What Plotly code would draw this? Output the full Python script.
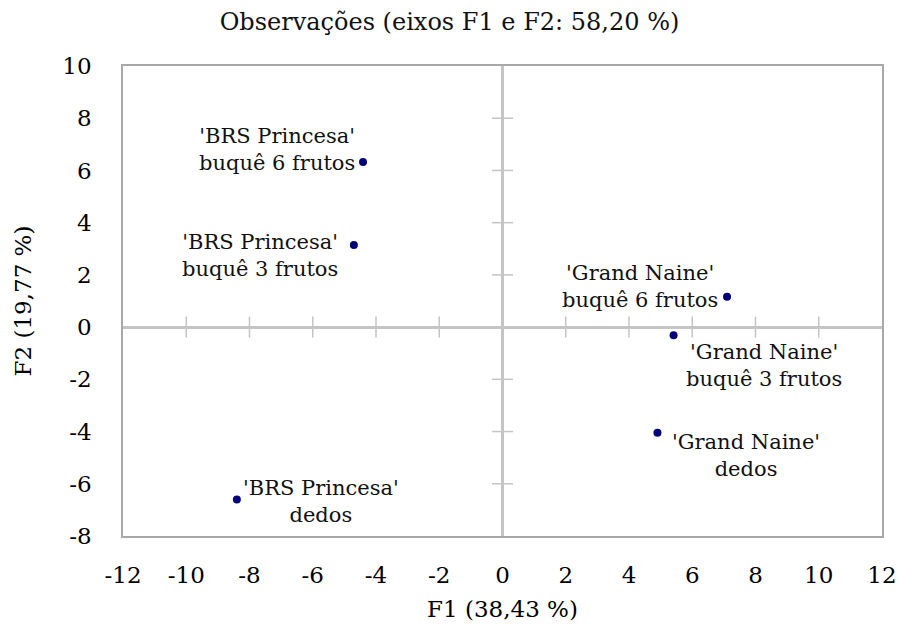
import plotly.graph_objects as go

# ---- data ----
labels = [
    "'BRS Princesa'<br>buquê 6 frutos",
    "'BRS Princesa'<br>buquê 3 frutos",
    "'Grand Naine'<br>buquê 6 frutos",
    "'Grand Naine'<br>buquê 3 frutos",
    "'Grand Naine'<br>dedos",
    "'BRS Princesa'<br>dedos",
]
f1 = [-4.41, -4.70, 7.10, 5.41, 4.90, -8.40]
f2 = [6.32, 3.14, 1.16, -0.31, -4.05, -6.60]
x_ticks = [-12, -10, -8, -6, -4, -2, 0, 2, 4, 6, 8, 10, 12]
y_ticks = [-8, -6, -4, -2, 0, 2, 4, 6, 8, 10]

title_text = "Observações (eixos F1 e F2: 58,20 %)"
x_title = "F1 (38,43 %)"
y_title = "F2 (19,77 %)"

# ---- label placement styles (xanchor, yanchor, xshift, yshift) ----
label_pos = [
    ("right", "middle", -6, 13),
    ("right", "middle", -14, -10),
    ("right", "middle", -7, 10),
    ("left", "middle", 10, -30),
    ("left", "middle", 13, -23),
    ("left", "middle", 4, -2),
]

FONT = "DejaVu Serif"
AX_COL = "#c4c4c4"
BOX_COL = "#a8a8a8"

fig = go.Figure()

# cross tick marks on the zero axes
xt = [t for t in x_ticks if t != 0 and abs(t) != 12]
yt = [t for t in y_ticks if t != 0 and t not in (y_ticks[0], y_ticks[-1])]
fig.add_trace(go.Scatter(
    x=xt, y=[0] * len(xt), mode="markers", hoverinfo="skip", showlegend=False,
    marker=dict(symbol="line-ns", size=15, line=dict(color=AX_COL, width=1.5)),
))
fig.add_trace(go.Scatter(
    x=[0] * len(yt), y=yt, mode="markers", hoverinfo="skip", showlegend=False,
    marker=dict(symbol="line-ew", size=15, line=dict(color=AX_COL, width=1.5)),
))

fig.add_trace(go.Scatter(
    x=f1, y=f2, mode="markers", showlegend=False,
    marker=dict(color="#00007a", size=8),
    text=[l.replace("<br>", " ") for l in labels], hoverinfo="text+x+y",
))

for xv, yv, lab, (xa, ya, xs, ys) in zip(f1, f2, labels, label_pos):
    fig.add_annotation(
        x=xv, y=yv, text=lab, showarrow=False, xanchor=xa, yanchor=ya,
        xshift=xs, yshift=ys, align="center",
        font=dict(family=FONT, size=21, color="#111111"),
    )

fig.update_layout(
    width=899, height=630, autosize=False,
    margin=dict(l=123, r=17, t=66, b=94, autoexpand=False),
    paper_bgcolor="white", plot_bgcolor="white",
    font=dict(family=FONT, size=23, color="#000000"),
    title=dict(text=title_text, x=0.5, xanchor="center", y=0.965, yanchor="middle",
               yref="container", font=dict(family=FONT, size=24, color="#111111")),
    xaxis=dict(
        range=[-12, 12], tickvals=x_ticks, ticktext=[str(t) for t in x_ticks],
        showgrid=False, zeroline=True, zerolinecolor=AX_COL, zerolinewidth=2.5,
        showline=True, mirror=True, linecolor=BOX_COL, linewidth=1.5,
        ticks="", ticklabelstandoff=18, automargin=False,
        title=dict(text=x_title, standoff=14, font=dict(family=FONT, size=23)),
        fixedrange=True,
    ),
    yaxis=dict(
        range=[-8, 10], tickvals=y_ticks, ticktext=[str(t) for t in y_ticks],
        showgrid=False, zeroline=True, zerolinecolor=AX_COL, zerolinewidth=2.5,
        showline=True, mirror=True, linecolor=BOX_COL, linewidth=1.5,
        ticks="", ticklabelstandoff=25, automargin=False,
        title=dict(text=y_title, standoff=24, font=dict(family=FONT, size=23)),
        fixedrange=True,
    ),
)

fig.write_html("out.html")
